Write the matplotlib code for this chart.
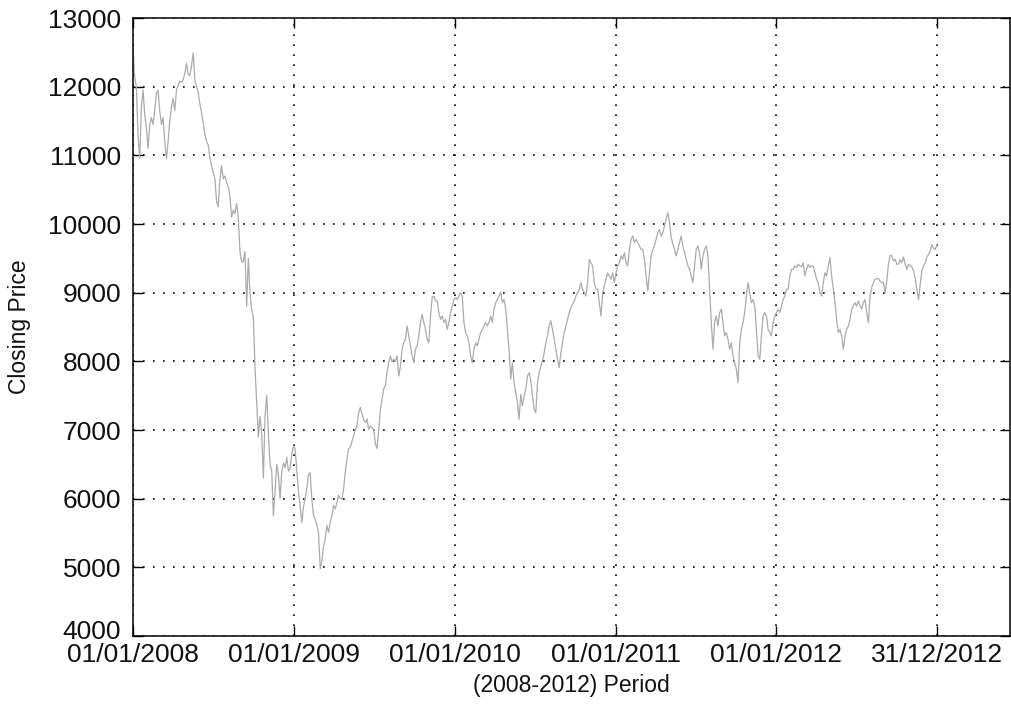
import matplotlib
matplotlib.use("Agg")
import matplotlib.pyplot as plt
import matplotlib.dates as mdates
import matplotlib.transforms as mtransforms
import pandas as pd

# Closing prices, evenly spaced samples from 01/01/2008 to 31/12/2012
close = [
    12550, 12150, 12000, 11300, 10950, 11700, 11950, 11600, 11400, 11100,
    11440, 11550, 11450, 11650, 11900, 11950, 11650, 11450, 11550, 11200,
    10950, 11200, 11500, 11700, 11830, 11650, 11950, 12020, 12080, 12060,
    12100, 12190, 12340, 12180, 12160, 12300, 12490, 12100, 12000, 11920,
    11750, 11620, 11480, 11300, 11200, 11150, 10960, 10850, 10750, 10660,
    10330, 10250, 10650, 10850, 10660, 10700, 10610, 10540, 10400, 10100,
    10200, 10150, 10300, 10100, 9600, 9450, 9450, 9600, 8800, 9500,
    9000, 8750, 8650, 7900, 7400, 6900, 7200, 6950, 6300, 7200,
    7500, 6950, 6500, 6400, 5750, 6100, 6500, 6350, 6000, 6400,
    6520, 6450, 6600, 6400, 6450, 6650, 6770, 6720, 6400, 6100,
    5900, 5650, 5880, 6000, 6150, 6350, 6380, 6000, 5755, 5705,
    5610, 5510, 4980, 5100, 5300, 5415, 5610, 5510, 5660, 5755,
    5900, 5850, 5945, 6050, 6000, 5995, 6140, 6385, 6580, 6725,
    6750, 6830, 6920, 7000, 7060, 7250, 7330, 7230, 7150, 7110,
    7160, 7010, 7060, 7030, 7010, 6800, 6730, 7000, 7300, 7450,
    7600, 7650, 7840, 7985, 8080, 7990, 8030, 8000, 8080, 7785,
    7930, 8175, 8270, 8320, 8515, 8370, 8225, 8080, 7980, 8175,
    8225, 8370, 8565, 8685, 8565, 8465, 8320, 8270, 8660, 8930,
    8950, 8880, 8880, 8710, 8610, 8660, 8565, 8610, 8465, 8565,
    8710, 8805, 8900, 8930, 8900, 8950, 9000, 8950, 8565, 8420,
    8370, 8270, 8080, 7980, 8175, 8270, 8225, 8320, 8420, 8465,
    8515, 8565, 8515, 8565, 8660, 8565, 8760, 8855, 8900, 8950,
    9010, 8855, 8900, 8760, 8465, 8175, 7740, 7980, 7690, 7545,
    7400, 7155, 7520, 7350, 7495, 7590, 7785, 7835, 7720, 7495,
    7300, 7250, 7690, 7835, 7930, 8005, 8125, 8270, 8370, 8515,
    8590, 8465, 8320, 8175, 8030, 7910, 8125, 8270, 8420, 8515,
    8610, 8710, 8780, 8830, 8880, 8950, 9000, 9050, 9145, 9050,
    9000, 8950, 9145, 9485, 9435, 9390, 9145, 9050, 9050, 8855,
    8660, 9000, 9100, 9195, 9290, 9240, 9195, 9290, 9145, 9290,
    9390, 9435, 9535, 9485, 9580, 9435, 9390, 9630, 9775, 9825,
    9730, 9775, 9730, 9680, 9630, 9630, 9485, 9240, 9025, 9290,
    9535, 9630, 9680, 9775, 9875, 9920, 9825, 9875, 9970, 10070,
    10165, 10020, 9805, 9710, 9630, 9535, 9630, 9730, 9825, 9680,
    9580, 9485, 9390, 9340, 9245, 9145, 9390, 9630, 9680, 9580,
    9340, 9535, 9630, 9680, 9535, 9050, 8565, 8175, 8565, 8660,
    8515, 8710, 8760, 8565, 8370, 8420, 8320, 8175, 8270, 8080,
    7980, 7885, 7690, 8270, 8465, 8565, 8710, 8950, 9145, 9000,
    8855, 8900, 8805, 8465, 8080, 8030, 8370, 8660, 8710, 8660,
    8465, 8420, 8370, 8565, 8660, 8710, 8760, 8710, 8805, 8900,
    8950, 9050, 9050, 9245, 9340, 9340, 9390, 9365, 9415, 9390,
    9380, 9435, 9245, 9340, 9415, 9365, 9390, 9390, 9290, 9195,
    9145, 9000, 8950, 9145, 9290, 9240, 9390, 9510, 9240, 9050,
    8855, 8610, 8420, 8465, 8370, 8175, 8370, 8465, 8515, 8610,
    8760, 8805, 8855, 8805, 8880, 8805, 8760, 8855, 8900, 8710,
    8565, 8950, 9075, 9145, 9195, 9205, 9205, 9170, 9145, 9155,
    9000, 9170, 9415, 9545, 9535, 9460, 9485, 9415, 9415, 9480,
    9435, 9520, 9415, 9340, 9415, 9390, 9375, 9320, 9220, 9050,
    8900, 9120, 9320, 9390, 9435, 9520, 9555, 9605, 9700, 9650,
    9630, 9700,
]
start, end = "2008-01-01", "2012-12-31"
tick_dates = ["2008-01-01", "2009-01-01", "2010-01-01", "2011-01-01",
              "2012-01-01", "2012-12-31"]
y_ticks = [4000, 5000, 6000, 7000, 8000, 9000, 10000, 11000, 12000, 13000]

dates = pd.date_range(start, end, periods=len(close))

plt.rcParams["font.family"] = ["Liberation Sans", "DejaVu Sans"]

fig = plt.figure(figsize=(10.11, 7.04), dpi=100)
ax = fig.add_axes([133 / 1011, 68 / 704, 877 / 1011, 618 / 704])

ax.plot(dates, close, color="#ababab", linewidth=0.9)

ax.set_xlim(pd.Timestamp("2008-01-01"), pd.Timestamp("2013-06-15"))
ax.set_ylim(4000, 13000)
ax.set_xticks(pd.to_datetime(tick_dates))
ax.xaxis.set_major_formatter(mdates.DateFormatter("%d/%m/%Y"))
ax.set_yticks(y_ticks)

ax.grid(True, color="black", linestyle=(0, (1, 5)), linewidth=1.2)
for s in ax.spines.values():
    s.set_linewidth(1.1)
ax.tick_params(direction="in", length=7, width=1, top=True, right=True,
               labelsize=19, labelcolor="#111111")
ax.tick_params(axis="y", pad=8.5)
ax.tick_params(axis="x", pad=5)

# lift the bottom y label so it clears the first date label
lift = mtransforms.ScaledTranslation(0, 5 / 72, fig.dpi_scale_trans)
bottom_label = ax.get_yticklabels()[0]
bottom_label.set_transform(bottom_label.get_transform() + lift)

ax.set_xlabel("(2008-2012) Period", fontsize=16.5, labelpad=5, color="#111111")
ax.set_ylabel("Closing Price", fontsize=16.5, labelpad=12, color="#111111")

fig.savefig("out.png", dpi=100)
